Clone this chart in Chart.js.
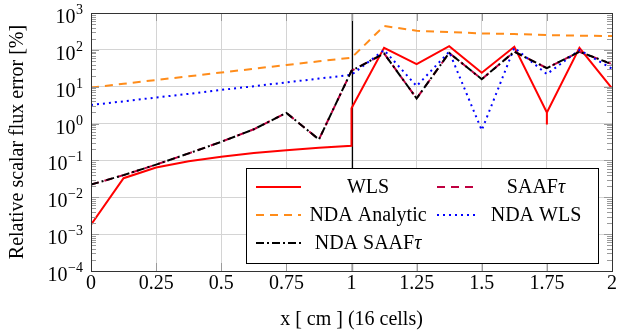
<!DOCTYPE html>
<html>
<head>
<meta charset="utf-8">
<script src="https://cdn.jsdelivr.net/npm/chart.js@4.4.0/dist/chart.umd.min.js"></script>
<style>
  html, body { margin: 0; padding: 0; background: #fff; }
  canvas { display: block; }
</style>
</head>
<body>
<canvas id="fluxChart" width="618" height="332"></canvas>
<script>
// cell edges, 16 cells on [0, 2]
const xNodes = [0, 0.125, 0.25, 0.375, 0.5, 0.625, 0.75, 0.875, 1, 1.125, 1.25, 1.375, 1.5, 1.625, 1.75, 1.875, 2];
const xTicks = [0, 0.25, 0.5, 0.75, 1, 1.25, 1.5, 1.75, 2];
const yDecades = [-4, -3, -2, -1, 0, 1, 2, 3];

// WLS jumps at x = 1 and has a spike at x = 1.75
const wlsX = [0, 0.125, 0.25, 0.375, 0.5, 0.625, 0.75, 0.875, 1, 1, 1.125, 1.25, 1.375, 1.5, 1.625, 1.75, 1.75, 1.75, 1.875, 2];
const wlsErr = [0.0018, 0.033, 0.064, 0.095, 0.126, 0.16, 0.19, 0.22, 0.25, 2.6, 114, 41, 126, 24, 121, 2.0, 0.95, 2.0, 114, 9.0];
const saafErr = [0.022, 0.040, 0.077, 0.155, 0.32, 0.7, 1.95, 0.37, 27, 80, 4.8, 83, 16, 89, 32, 89, 41];
const ndaAnalyticErr = [9.5, 12, 15.2, 19.2, 24.3, 30.7, 38.9, 49, 61, 443, 330, 303, 280, 268, 252, 242, 237];
const ndaWlsErr = [3.2, 4.0, 5.1, 6.4, 8.2, 10.3, 13.1, 16.6, 21, 99, 10.4, 89, 0.66, 114, 22, 99, 31];
const ndaSaafErr = [0.022, 0.040, 0.077, 0.155, 0.32, 0.7, 1.95, 0.37, 27, 80, 4.8, 83, 16, 89, 32, 89, 41];

const SERIF = '"Liberation Serif", "Times New Roman", serif';

function pts(xs, ys) {
    return ys.map((y, i) => ({ x: xs[i], y: y }));
}

function line(label, data, color, dash, order) {
    return {
        label: label,
        data: data,
        borderColor: color,
        backgroundColor: color,
        borderWidth: 2,
        borderDash: dash,
        pointRadius: 0,
        tension: 0,
        fill: false,
        order: order
    };
}

// draws label centred at cx, with a trailing tau set in italic
function legendText(ctx, label, cx, cy) {
    ctx.textBaseline = 'middle';
    ctx.textAlign = 'left';
    const hasTau = label.endsWith('\u03c4');
    const head = hasTau ? label.slice(0, -1) : label;
    ctx.font = '20px ' + SERIF;
    const hw = ctx.measureText(head).width;
    let tw = 0;
    if (hasTau) {
        ctx.font = 'italic 20px ' + SERIF;
        tw = ctx.measureText('\u03c4').width;
    }
    const x0 = cx - (hw + tw) / 2;
    ctx.font = '20px ' + SERIF;
    ctx.fillText(head, x0, cy);
    if (hasTau) {
        ctx.font = 'italic 20px ' + SERIF;
        ctx.fillText('\u03c4', x0 + hw, cy);
    }
}

const decor = {
    id: 'decor',
    beforeDatasetsDraw(chart) {
        const { ctx, chartArea: a, scales: { x } } = chart;
        const xi = Math.round(x.getPixelForValue(1)) + 0.5;
        ctx.save();
        ctx.strokeStyle = '#000';
        ctx.lineWidth = 1.2;
        ctx.beginPath();
        ctx.moveTo(xi, a.top);
        ctx.lineTo(xi, a.bottom);
        ctx.stroke();
        ctx.restore();
    },
    afterDatasetsDraw(chart) {
        const { ctx, chartArea: a, scales: { x, y } } = chart;
        ctx.save();

        // minor ticks on y, both sides
        ctx.strokeStyle = '#9a9a9a';
        ctx.lineWidth = 1;
        ctx.beginPath();
        for (let e = -4; e < 3; e++) {
            for (let m = 2; m <= 9; m++) {
                const py = Math.round(y.getPixelForValue(m * Math.pow(10, e))) + 0.5;
                ctx.moveTo(a.left, py); ctx.lineTo(a.left + 5, py);
                ctx.moveTo(a.right, py); ctx.lineTo(a.right - 5, py);
            }
        }
        // major ticks on x, top and bottom
        xTicks.forEach(v => {
            const px = Math.round(x.getPixelForValue(v)) + 0.5;
            ctx.moveTo(px, a.top); ctx.lineTo(px, a.top + 8);
            ctx.moveTo(px, a.bottom); ctx.lineTo(px, a.bottom - 8);
        });
        yDecades.forEach(e => {
            const py = Math.round(y.getPixelForValue(Math.pow(10, e))) + 0.5;
            ctx.moveTo(a.left, py); ctx.lineTo(a.left + 8, py);
            ctx.moveTo(a.right, py); ctx.lineTo(a.right - 8, py);
        });
        ctx.stroke();

        // frame
        ctx.strokeStyle = '#333';
        ctx.lineWidth = 1;
        ctx.strokeRect(Math.round(a.left) + 0.5, Math.round(a.top) + 0.5,
            Math.round(a.right - a.left), Math.round(a.bottom - a.top));

        // y tick labels 10^e
        ctx.fillStyle = '#000';
        ctx.textBaseline = 'alphabetic';
        ctx.textAlign = 'left';
        const rightEdge = a.left - 8;
        yDecades.forEach(e => {
            const py = y.getPixelForValue(Math.pow(10, e));
            const expTxt = e < 0 ? '\u2212' + (-e) : String(e);
            ctx.font = '14px ' + SERIF;
            const ew = ctx.measureText(expTxt).width;
            ctx.fillText(expTxt, rightEdge - ew, py + 1);
            ctx.font = '20px ' + SERIF;
            const bw = ctx.measureText('10').width;
            ctx.fillText('10', rightEdge - ew - bw - 0.5, py + 10);
        });

        // legend box, two columns
        const box = { l: 246, t: 168, r: 598, b: 263 };
        ctx.fillStyle = '#fff';
        ctx.fillRect(box.l, box.t, box.r - box.l, box.b - box.t);
        ctx.strokeStyle = '#000';
        ctx.strokeRect(box.l + 0.5, box.t + 0.5, box.r - box.l, box.b - box.t);
        const cols = [
            { s0: 256, s1: 301, tx: 368 },
            { s0: 437, s1: 478, tx: 536 }
        ];
        const rows = [187, 215, 243];
        chart.data.datasets.forEach((ds, i) => {
            const c = cols[i % 2];
            const ry = rows[Math.floor(i / 2)];
            ctx.strokeStyle = ds.borderColor;
            ctx.lineWidth = 2;
            ctx.setLineDash(ds.borderDash || []);
            ctx.beginPath();
            ctx.moveTo(c.s0, ry);
            ctx.lineTo(c.s1, ry);
            ctx.stroke();
            ctx.setLineDash([]);
            ctx.fillStyle = '#000';
            legendText(ctx, ds.label, c.tx, ry + 1);
        });
        ctx.restore();
    }
};

new Chart(document.getElementById('fluxChart').getContext('2d'), {
    type: 'line',
    data: {
        datasets: [
            line('WLS', pts(wlsX, wlsErr), '#ff0000', [], 5),
            line('SAAF\u03c4', pts(xNodes, saafErr), '#bf0040', [8, 6], 4),
            line('NDA Analytic', pts(xNodes, ndaAnalyticErr), '#ff8c1a', [8, 6], 3),
            line('NDA WLS', pts(xNodes, ndaWlsErr), '#0000ff', [2, 4], 2),
            line('NDA SAAF\u03c4', pts(xNodes, ndaSaafErr), '#000000', [8, 3, 2, 3], 1)
        ]
    },
    options: {
        responsive: false,
        animation: false,
        devicePixelRatio: 1,
        layout: { padding: { left: 0, right: 4, top: 13, bottom: 0 } },
        plugins: {
            legend: { display: false },
            tooltip: { enabled: false }
        },
        scales: {
            x: {
                type: 'linear',
                min: 0,
                max: 2,
                afterBuildTicks: s => { s.ticks = xTicks.map(v => ({ value: v })); },
                afterFit: s => { s.height = 61; },
                ticks: {
                    color: '#000',
                    padding: 1,
                    maxRotation: 0,
                    font: { family: SERIF, size: 20 },
                    callback: v => String(+Number(v).toFixed(3))
                },
                grid: { color: '#d4d4d4', drawTicks: false },
                border: { display: false },
                title: {
                    display: true,
                    text: 'x [ cm ] (16 cells)',
                    color: '#000',
                    font: { family: SERIF, size: 20 },
                    padding: { top: 3, bottom: 0 }
                }
            },
            y: {
                type: 'logarithmic',
                min: 1e-4,
                max: 1e3,
                afterBuildTicks: s => { s.ticks = yDecades.map(e => ({ value: Math.pow(10, e) })); },
                afterFit: s => { s.width = 91; },
                ticks: { display: false },
                grid: { color: '#d4d4d4', drawTicks: false },
                border: { display: false },
                title: {
                    display: true,
                    text: 'Relative scalar flux error [%]',
                    color: '#000',
                    font: { family: SERIF, size: 20 },
                    padding: { top: 6, bottom: 0 }
                }
            }
        }
    },
    plugins: [decor]
});
</script>
</body>
</html>
